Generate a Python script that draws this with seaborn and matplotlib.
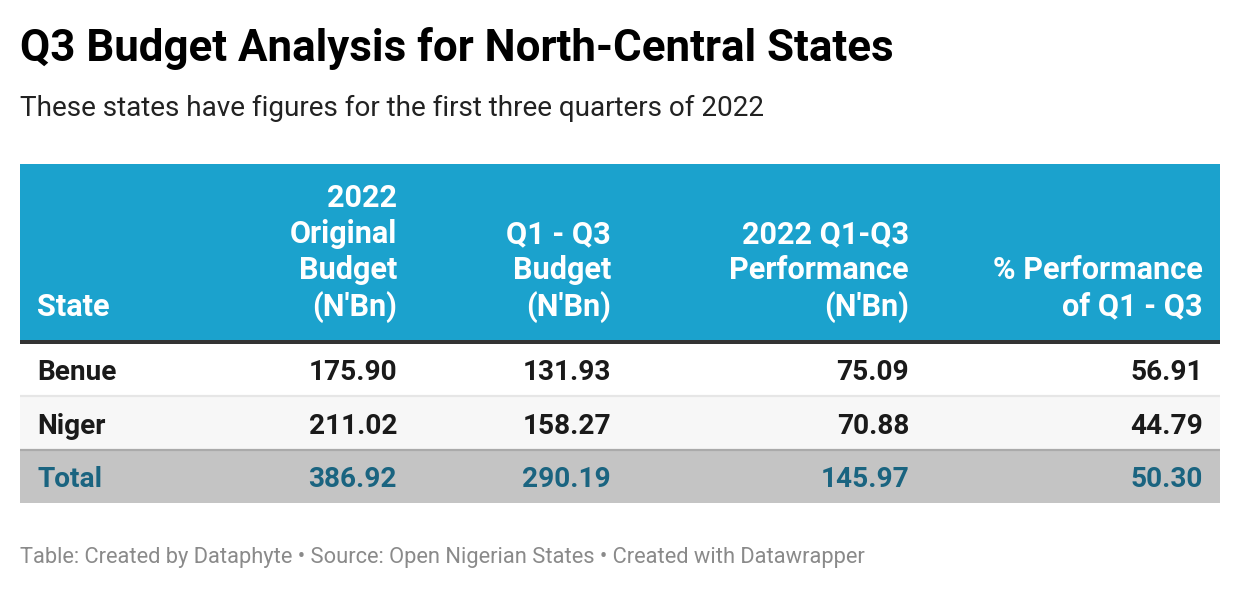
import matplotlib
matplotlib.use("Agg")
import matplotlib.pyplot as plt
from matplotlib.colors import ListedColormap
from matplotlib.patches import Rectangle
import numpy as np
import seaborn as sns

# ---------------- data ----------------
states = ["Benue", "Niger"]
original_budget = [175.90, 211.02]
q1q3_budget = [131.93, 158.27]
q1q3_performance = [75.09, 70.88]
pct_performance = [56.91, 44.79]
total_label = "Total"
totals = [386.92, 290.19, 145.97, 50.30]

headers = [
    ["State"],
    ["2022", "Original", "Budget", "(N'Bn)"],
    ["Q1 - Q3", "Budget", "(N'Bn)"],
    ["2022 Q1-Q3", "Performance", "(N'Bn)"],
    ["% Performance", "of Q1 - Q3"],
]

title = "Q3 Budget Analysis for North-Central States"
subtitle = "These states have figures for the first three quarters of 2022"
footer = "Table: Created by Dataphyte \u2022 Source: Open Nigerian States \u2022 Created with Datawrapper"

# ---------------- style ----------------
sns.set_theme(style="white")
plt.rcParams["font.family"] = ["Roboto", "DejaVu Sans"]

W, H = 1240, 590
fig = plt.figure(figsize=(W / 100, H / 100), dpi=100)
fig.patch.set_facecolor("white")

def fx(x):
    return x / W

def fy(y):
    return 1 - y / H

def pt(px):
    return px * 72 / 100

HEADER_BLUE = "#1ba2cd"
TOTAL_BG = "#c4c4c4"
TOTAL_TXT = "#1a6480"
BODY_TXT = "#1a1a1a"

# title / subtitle / footer
fig.text(fx(20), fy(61), title, fontsize=pt(43.9), fontweight="bold",
         color="#000000", va="baseline", ha="left")
fig.text(fx(20), fy(116), subtitle, fontsize=pt(27.9), color="#222222",
         va="baseline", ha="left")
fig.text(fx(20), fy(563), footer, fontsize=pt(21.9), color="#8a8a8a",
         va="baseline", ha="left")

# header band and rule
fig.patches.append(Rectangle((fx(20), fy(340)), fx(1200), 176 / H,
                             transform=fig.transFigure, facecolor=HEADER_BLUE,
                             edgecolor="none", zorder=0))
fig.patches.append(Rectangle((fx(20), fy(343.5)), fx(1200), 3.5 / H,
                             transform=fig.transFigure, facecolor="#333333",
                             edgecolor="none", zorder=1))

# body row backgrounds via seaborn heatmap
row_kind = np.array([[0], [1], [2]])
ax = fig.add_axes([fx(20), fy(503), fx(1200), 160 / H])
sns.heatmap(row_kind, ax=ax, cmap=ListedColormap(["#ffffff", "#f7f7f7", TOTAL_BG]),
            cbar=False, xticklabels=False, yticklabels=False, vmin=0, vmax=2,
            linewidths=0)
ax.axhline(1, color="#e6e6e6", lw=1.6)
ax.axhline(2, color="#aaaaaa", lw=1.6)
for s in ax.spines.values():
    s.set_visible(False)

# text layout
col_x = [37, 397, 611, 909, 1203]
col_ha = ["left", "right", "right", "right", "right"]
line_gap = 36.3
last_base = 315.5
head_fs = pt(30.6)
for c, lines in enumerate(headers):
    n = len(lines)
    for i, line in enumerate(lines):
        yb = last_base - (n - 1 - i) * line_gap
        fig.text(fx(col_x[c]), fy(yb), line, fontsize=head_fs, fontweight="bold",
                 color="white", ha=col_ha[c], va="baseline")

body_fs = pt(28)
row_base = [380, 433.5, 487]
columns = [original_budget, q1q3_budget, q1q3_performance, pct_performance]
for r, st in enumerate(states):
    fig.text(fx(col_x[0]), fy(row_base[r]), st, fontsize=body_fs, fontweight="bold",
             color=BODY_TXT, ha="left", va="baseline")
    for c, col in enumerate(columns):
        fig.text(fx(col_x[c + 1]), fy(row_base[r]), f"{col[r]:.2f}", fontsize=body_fs,
                 fontweight="bold", color=BODY_TXT, ha="right", va="baseline")

fig.text(fx(col_x[0]), fy(row_base[2]), total_label, fontsize=body_fs, fontweight="bold",
         color=TOTAL_TXT, ha="left", va="baseline")
for c, v in enumerate(totals):
    fig.text(fx(col_x[c + 1]), fy(row_base[2]), f"{v:.2f}", fontsize=body_fs,
             fontweight="bold", color=TOTAL_TXT, ha="right", va="baseline")

fig.savefig("out.png", dpi=100, facecolor="white")
